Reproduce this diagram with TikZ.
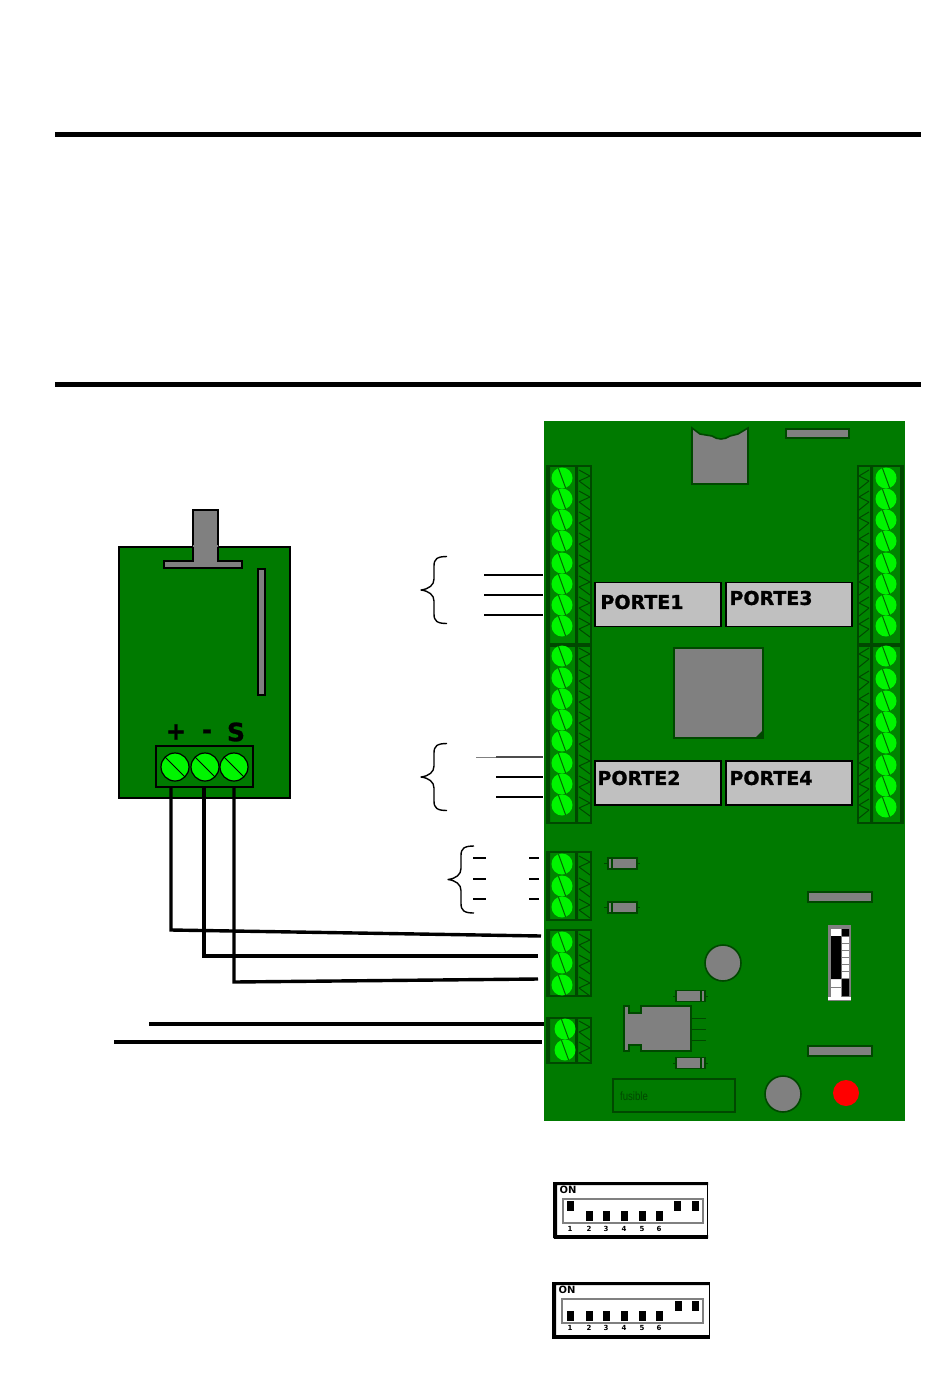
\documentclass[tikz,border=0pt]{standalone}
\usepackage{fontspec}
\setmainfont{DejaVu Sans}
\newfontfamily\fusefont{Liberation Sans}
\newfontfamily\heavyfont[FakeBold=1.2]{DejaVu Sans Bold}
\definecolor{pcb}{RGB}{0,122,0}
\definecolor{blockgreen}{RGB}{0,132,0}
\definecolor{darkpcb}{RGB}{0,72,0}
\definecolor{screwgreen}{RGB}{0,245,0}
\definecolor{partgrey}{RGB}{128,128,128}
\definecolor{relaygrey}{RGB}{192,192,192}
\tikzset{
  rule/.style={line width=5pt},
  part/.style={fill=partgrey,draw=darkpcb,line width=1.6pt},
  wire/.style={line width=3.4pt},
  lead/.style={draw=darkpcb,line width=1pt},
  signal/.style={line width=1.3pt},
  curly/.style={line width=1.4pt,line join=round},
  block/.style={fill=blockgreen,draw=darkpcb,line width=1.4pt},
  screw/.style={circle,fill=screwgreen,minimum size=21pt,inner sep=0pt,
    path picture={\draw[pcb!85!black,line width=1pt]
      (path picture bounding box.110) -- (path picture bounding box.-70);}},
  bigscrew/.style={circle,fill=screwgreen,draw=black,line width=1.2pt,
    minimum size=28pt,inner sep=0pt,
    path picture={\draw[line width=1pt]
      (path picture bounding box.135) -- (path picture bounding box.-45);}},
  relay/.style={fill=relaygrey,draw=black,line width=1.6pt,minimum width=126pt,
    minimum height=44pt,inner sep=0pt},
  relaytext/.style={font=\heavyfont\fontsize{19}{19}\selectfont,inner sep=0pt},
  swbox/.style={fill=white,draw=black,line width=1pt},
  swframe/.style={fill=white,draw=gray,line width=1.4pt},
  swnum/.style={font=\fontsize{7}{7}\selectfont\bfseries,inner sep=0pt},
  swon/.style={font=\fontsize{10}{10}\selectfont\bfseries,inner sep=0pt},
}
\begin{document}
\begin{tikzpicture}[x=1pt,y=-1pt]
\useasboundingbox (0,0) rectangle (950,1379);
\draw[rule] (55,134) -- (921,134);
\draw[rule] (55,384) -- (921,384);
% sensor
\fill[partgrey] (193,510) rectangle (218,548);
\draw[line width=1.2pt] (193,547) -- (193,510) -- (218,510) -- (218,547);
\draw[fill=pcb,line width=1.5pt] (119,547) rectangle (290,798);
\fill[partgrey] (193,545) rectangle (218,562) (164,561) rectangle (242,568);
\draw[line width=1.2pt] (193,547) -- (193,561) -- (164,561) -- (164,568) -- (242,568)
 -- (242,561) -- (218,561) -- (218,547);
\draw[fill=partgrey,line width=1.2pt] (258,569) rectangle (265,695);
\node[font=\heavyfont\fontsize{24}{24}\selectfont,inner sep=0pt] (plus) at (176,732) {+};
\node[font=\heavyfont\fontsize{24}{24}\selectfont,inner sep=0pt] (minus) at (207,734) {-};
\node[font=\heavyfont\fontsize{25}{25}\selectfont,inner sep=0pt] (signe) at (236,732) {S};
\draw[line width=1.3pt] (156,746) rectangle (253,787);
\foreach \x/\n in {175/a,205/b,234/c}
\node[bigscrew] (sensor\n) at (\x,767) {};
\coordinate (sa) at (171,787);
\coordinate (sb) at (204,787);
\coordinate (sc) at (234,787);
% board
\fill[pcb] (544,421) rectangle (905,1121);
% left terminals
\foreach \top/\bot/\ylist/\sx/\nm in {
 466/644/{478,499,520,541,563,584,605,626}/562/a,
 646/823/{656,678,699,720,741,763,784,805}/562/b,
 852/920/{864,886,907}/562/c,
 930/996/{942,963,985}/562/d,
 1018/1063/{1029,1050}/565/e}{
  \draw[block] (547,\top) rectangle (576,\bot);
  \draw[block] (576,\top) rectangle (591,\bot);
  \fill[darkpcb] (546,\top) rectangle (550,\bot) (575,\top) rectangle (578,\bot);
  \foreach \y [count=\i] in \ylist {
    \node[screw] (term\nm\i) at (\sx,\y) {};
    \draw[lead] (579,\y-8) -- (590,\y-2) -- (579,\y+3);
    \draw[lead] (579,\y+3) -- (590,\y+11);
  }
}
% right terminals
\foreach \top/\bot/\ylist/\nm in {
 466/644/{478,499,520,541,563,584,605,626}/f,
 646/823/{656,679,701,722,743,765,786,807}/g}{
  \draw[block] (858,\top) rectangle (872,\bot);
  \draw[block] (872,\top) rectangle (903,\bot);
  \fill[darkpcb] (870,\top) rectangle (873,\bot) (900,\top) rectangle (903,\bot);
  \foreach \y [count=\i] in \ylist {
    \node[screw] (term\nm\i) at (886,\y) {};
    \draw[lead] (869,\y-8) -- (859,\y-2) -- (869,\y+3);
    \draw[lead] (869,\y+3) -- (859,\y+11);
  }
}
% relays
\foreach \x/\y/\n in {658/604.5/1,789/604.5/3,658/783/2,789/783/4}
\node[relay] (relay\n) at (\x,\y) {};
\node[relaytext] (label1) at (642,602) {PORTE1};
\node[relaytext] (label3) at (771,598) {PORTE3};
\node[relaytext] (label2) at (639,778) {PORTE2};
\node[relaytext] (label4) at (771,778) {PORTE4};
% parts
\draw[part] (692,428) -- (700,434) -- (712,436) .. controls (718,440) and (724,440) .. (730,436)
 -- (738,434) -- (748,428) -- (748,484) -- (692,484) -- cycle;
\draw[part] (786,429) rectangle (849,438);
\draw[part] (674,648) rectangle (763,738);
\fill[darkpcb] (763,730) -- (763,738) -- (755,738) -- cycle;
\foreach \x/\y in {808/892,808/1046}
\draw[part] (\x,\y) rectangle +(64,10);
\foreach \y in {863.5,907.5}{
  \draw[lead] (604,\y) -- (640,\y);
  \draw[part] (608,\y-5.5) rectangle (637,\y+5.5);
  \draw[darkpcb,line width=1.2pt] (612,\y-5.5) -- (612,\y+5.5);
}
\foreach \y in {996,1063}{
  \draw[lead] (673,\y) -- (708,\y);
  \draw[part] (676,\y-5.5) rectangle (705,\y+5.5);
  \draw[darkpcb,line width=1.2pt] (701,\y-5.5) -- (701,\y+5.5);
}
\foreach \y in {1018,1029,1040}
\draw[lead] (691,\y) -- (706,\y);
\draw[part] (624,1006) -- (629,1006) -- (629,1013) -- (641,1013) -- (641,1006) -- (691,1006)
 -- (691,1051) -- (641,1051) -- (641,1045) -- (629,1045) -- (629,1051) -- (624,1051) -- cycle;
\draw[part] (723,963) circle (18);
\draw[part] (783,1094) circle (18);
\fill[red] (846,1093) circle (13);
\draw[darkpcb,line width=1.2pt] (613,1079) rectangle (735,1112);
\node[font=\fusefont\fontsize{12}{12}\selectfont,text=darkpcb,inner sep=0pt,
 xscale=.8,transform shape] (fuse) at (634,1096) {fusible};
% switch on the board
\fill[partgrey] (828,925) rectangle (851,1001);
\fill[white] (831,929) rectangle (841,936) (831,979) rectangle (841,997)
 (842,937) rectangle (849,978);
\fill[black] (831,936) rectangle (841,979) (842,929) rectangle (849,936) (842,979) rectangle (849,996);
\fill[white] (828,997) rectangle (851,1000);
\draw[partgrey,line width=0.8pt] (831,987) -- (841,987);
\foreach \y in {943,950,957,964,971}
\draw[partgrey,line width=0.8pt] (842,\y) -- (849,\y);
% wires
\coordinate (pa) at (541,936);
\coordinate (pb) at (538,956);
\coordinate (pc) at (538,979);
\coordinate (pd) at (544,1024);
\coordinate (pe) at (542,1042);
\coordinate (ca) at (171,930);
\coordinate (cb) at (204,956);
\coordinate (cc) at (234,982);
\coordinate (fd) at (149,1024);
\coordinate (fe) at (114,1042);
\draw[wire] (sa) -- (ca) -- (pa);
\draw[wire] (sb) -- (cb) -- (pb);
\draw[wire] (sc) -- (cc) -- (pc);
\draw[wire] (fd) -- (pd);
\draw[wire] (fe) -- (pe);
% signal lines
\foreach \y in {575,595,615}
\draw[signal] (484,\y) -- (543,\y);
\draw[gray,line width=0.8pt] (476,757) -- (497,757);
\draw[signal,black!70] (496,757) -- (543,757);
\foreach \y in {777,797}
\draw[signal] (496,\y) -- (543,\y);
\foreach \y in {858,879,899}{
  \draw[signal] (473,\y) -- (486,\y);
  \draw[signal] (529,\y) -- (539,\y);
}
\foreach \x/\y in {421/590,421/777,448/879.5}
\draw[curly,shift={(\x,\y)}] (26,-33.5) .. controls (16,-33.5) and (13,-31) .. (13,-24)
 -- (13,-11) .. controls (13,-5) and (8,-1) .. (0,0)
 .. controls (8,1) and (13,5) .. (13,11) -- (13,24)
 .. controls (13,31) and (16,33.5) .. (26,33.5);
% dip switches
\draw[swbox] (554,1183) rectangle (707,1238);
\fill (553,1182) rectangle (708,1185) (553,1182) rectangle (557,1238) (553,1235) rectangle (708,1238);
\draw[swframe] (563,1199) rectangle (703,1223);
\node[swon] (on1) at (568,1190) {ON};
\foreach \x/\y in {570/1206,589/1216,606/1216,624/1216,642/1216,659/1216,677/1206,695/1206}
\fill (\x-3.5,\y-5) rectangle (\x+3.5,\y+5);
\foreach \x [count=\i] in {570,589,606,624,642,659}
\node[swnum] (numa\i) at (\x,1229) {\i};
\draw[swbox] (552,1282) rectangle (709,1338);
\fill (552,1282) rectangle (709,1285) (552,1282) rectangle (556,1338) (552,1335) rectangle (709,1338);
\draw[swframe] (562,1299) rectangle (703,1323);
\node[swon] (on2) at (567,1290) {ON};
\foreach \x/\y in {570/1316,589/1316,606/1316,624/1316,642/1316,659/1316,678/1306,695/1306}
\fill (\x-3.5,\y-5) rectangle (\x+3.5,\y+5);
\foreach \x [count=\i] in {570,589,606,624,642,659}
\node[swnum] (numb\i) at (\x,1328) {\i};
\end{tikzpicture}
\end{document}
